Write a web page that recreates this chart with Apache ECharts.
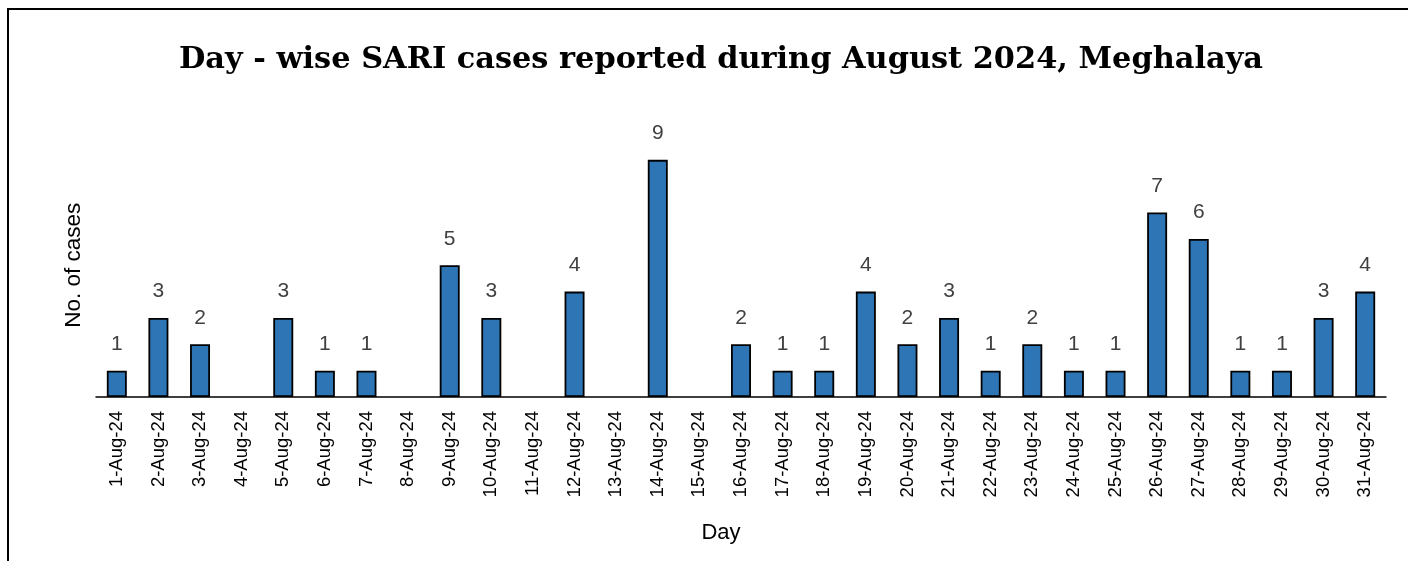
<!DOCTYPE html>
<html>
<head>
<meta charset="utf-8">
<script src="https://cdn.jsdelivr.net/npm/echarts@6/dist/echarts.min.js"></script>
<style>
  html, body { margin: 0; padding: 0; background: #fff; }
  #chart { width: 1408px; height: 561px; }
</style>
</head>
<body>
<div id="chart"></div>
<script>
// day-wise SARI cases, August 2024
const days = [];
for (let d = 1; d <= 31; d++) days.push(d + '-Aug-24');
const cases = [1, 3, 2, 0, 3, 1, 1, 0, 5, 3, 0, 4, 0, 9, 0, 2, 1, 1, 4, 2, 3, 1, 2, 1, 1, 7, 6, 1, 1, 3, 4];

const labelFont = '"Liberation Sans", Arial, sans-serif';

const myChart = echarts.init(document.getElementById('chart'));
const option = {
  animation: false,
  backgroundColor: '#fff',
  title: {
    text: 'Day - wise SARI cases reported during August 2024, Meghalaya',
    left: 716,
    textAlign: 'center',
    top: 40,
    textStyle: {
      fontFamily: '"DejaVu Serif", serif',
      fontWeight: 'bold',
      fontSize: 30.4,
      color: '#000'
    }
  },
  graphic: [
    {
      // outer frame (runs off the right and bottom edges)
      type: 'rect',
      shape: { x: 8, y: 9, width: 1430, height: 600 },
      style: { fill: 'none', stroke: '#000', lineWidth: 2 },
      silent: true
    }
  ],
  grid: { left: 96, right: 22, top: 133.5, bottom: 164 },
  xAxis: {
    type: 'category',
    data: days,
    name: 'Day',
    nameLocation: 'middle',
    nameGap: 125,
    nameTextStyle: { fontFamily: labelFont, fontSize: 22, color: '#000', padding: [0, 40, 0, 0] },
    axisLine: { lineStyle: { color: '#000', width: 1.5 } },
    axisTick: { show: false },
    axisLabel: {
      rotate: 90,
      interval: 0,
      margin: 14,
      fontFamily: labelFont,
      fontSize: 18.5,
      color: '#000'
    }
  },
  yAxis: {
    type: 'value',
    min: 0,
    max: 10,
    name: 'No. of cases',
    nameLocation: 'middle',
    nameGap: 11,
    nameTextStyle: { fontFamily: labelFont, fontSize: 22.5, color: '#000' },
    axisLine: { show: false },
    axisTick: { show: false },
    axisLabel: { show: false },
    splitLine: { show: false }
  },
  series: [
    {
      type: 'bar',
      data: cases.map(v => v === 0 ? null : v),
      barWidth: '48%',
      itemStyle: { color: '#2E75B6', borderColor: '#000', borderWidth: 1.8 },
      label: {
        show: true,
        position: 'top',
        distance: 16,
        fontFamily: labelFont,
        fontSize: 21,
        color: '#404040'
      }
    }
  ]
};
option && myChart.setOption(option);
</script>
</body>
</html>
